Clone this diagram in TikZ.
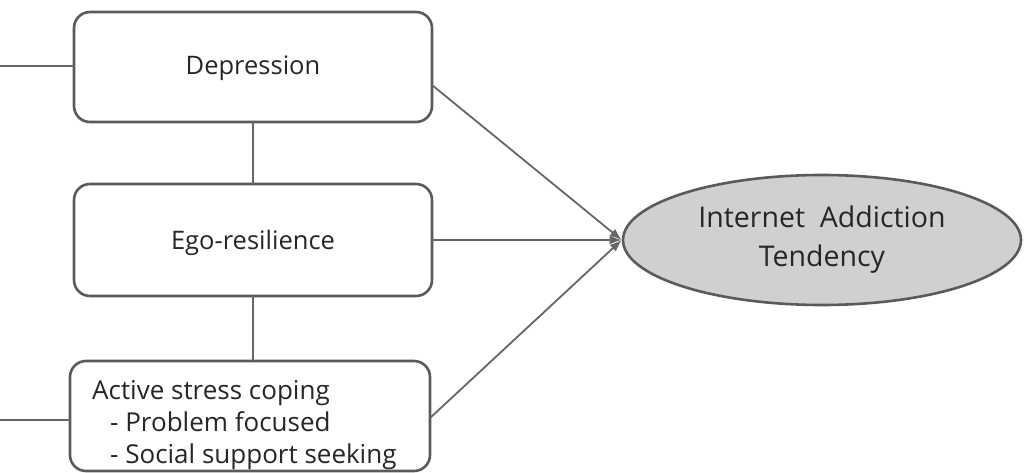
\documentclass[tikz,border=0pt]{standalone}
\usepackage{fontspec}
\setmainfont{Open Sans}
\usetikzlibrary{shapes.geometric,arrows.meta}
\definecolor{edge}{HTML}{666666}
\definecolor{frame}{HTML}{5A5A5A}
\definecolor{fillg}{HTML}{D0D0D0}
\begin{document}
\begin{tikzpicture}[x=1pt,y=-1pt,
  box/.style={draw=frame,line width=2.6pt,rounded corners=16pt,fill=white},
  conn/.style={draw=edge,line width=1.8pt},
  arr/.style={conn,-{Latex[length=12pt,width=9pt]}},
  lbl/.style={font=\fontsize{25.5}{25.5}\selectfont,text=black!85}]
\useasboundingbox (0,0) rectangle (1028,473);
% boxes
\draw[box] (74,12) rectangle (432,122);
\node[lbl] (dep) at (253,68) {Depression};
\draw[box] (74,184) rectangle (432,296);
\node[lbl] (ego) at (253,243) {Ego-resilience};
\draw[box] (70,361) rectangle (430,471);
\node[lbl,align=left,anchor=north west,inner sep=0pt,
  font=\fontsize{26}{32}\selectfont] (act) at (92,380)
  {Active stress coping\\\hspace*{18pt}- Problem focused\\\hspace*{18pt}- Social support seeking};
% named anchors on boxes
\coordinate (depL) at (74,66);
\coordinate (depR) at (432,85);
\coordinate (depB) at (253,122);
\coordinate (egoT) at (253,184);
\coordinate (egoB) at (253,296);
\coordinate (egoR) at (432,240);
\coordinate (actT) at (253,361);
\coordinate (actL) at (70,420);
\coordinate (actR) at (430,418);
\coordinate (free1) at (0,66);
\coordinate (free2) at (0,420);
% ellipse
\node[ellipse,draw=frame,line width=2.6pt,fill=fillg,minimum width=398pt,minimum height=130pt,
  align=center,lbl,font=\fontsize{28.5}{39}\selectfont] (iat) at (822,240)
  {Internet\ \ Addiction\\Tendency};
% connectors
\draw[conn] (free1) -- (depL);
\draw[conn] (free2) -- (actL);
\draw[conn] (depB) -- (egoT);
\draw[conn] (egoB) -- (actT);
\draw[arr] (depR) -- (iat.west);
\draw[arr] (egoR) -- (iat.west);
\draw[arr] (actR) -- (iat.west);
\end{tikzpicture}
\end{document}
